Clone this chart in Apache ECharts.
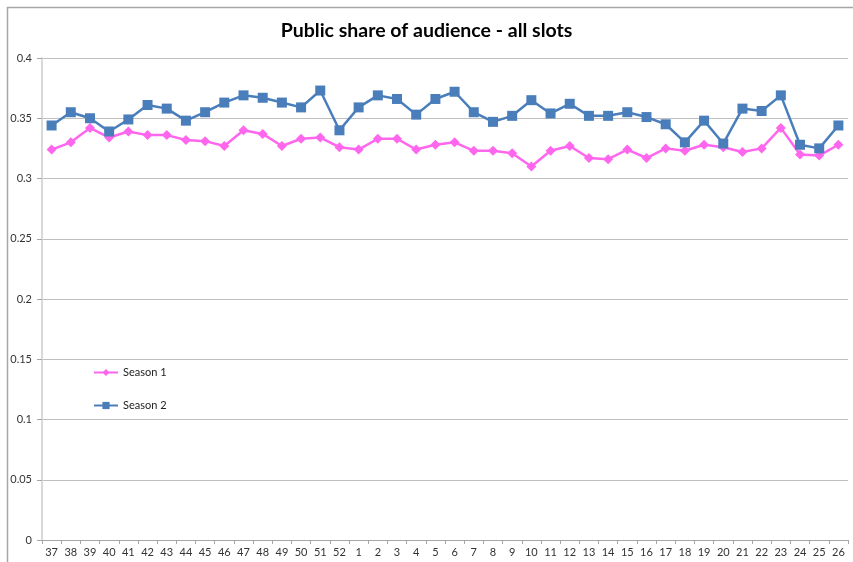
<!DOCTYPE html>
<html>
<head>
<meta charset="utf-8">
<script src="https://cdn.jsdelivr.net/npm/echarts@6/dist/echarts.min.js"></script>
<style>
  html, body { margin: 0; padding: 0; background: #fff; }
  #chart { width: 853px; height: 562px; }
</style>
</head>
<body>
<div id="chart"></div>
<script>
// weeks
const weeks = ["37", "38", "39", "40", "41", "42", "43", "44", "45", "46", "47", "48", "49", "50", "51", "52",
  "1", "2", "3", "4", "5", "6", "7", "8", "9", "10", "11", "12", "13", "14", "15", "16", "17", "18", "19", "20",
  "21", "22", "23", "24", "25", "26"];
const season1 = [0.324, 0.330, 0.342, 0.334, 0.339, 0.336, 0.336, 0.332, 0.331, 0.327, 0.340, 0.337, 0.327, 0.333,
  0.334, 0.326, 0.324, 0.333, 0.333, 0.324, 0.328, 0.330, 0.323, 0.323, 0.321, 0.310, 0.323, 0.327, 0.317, 0.316,
  0.324, 0.317, 0.325, 0.323, 0.328, 0.326, 0.322, 0.325, 0.342, 0.320, 0.319, 0.328];
const season2 = [0.344, 0.355, 0.350, 0.339, 0.349, 0.361, 0.358, 0.348, 0.355, 0.363, 0.369, 0.367, 0.363, 0.359,
  0.373, 0.340, 0.359, 0.369, 0.366, 0.353, 0.366, 0.372, 0.355, 0.347, 0.352, 0.365, 0.354, 0.362, 0.352, 0.352,
  0.355, 0.351, 0.345, 0.330, 0.348, 0.329, 0.358, 0.356, 0.369, 0.328, 0.325, 0.344];
const yTicks = ["0", "0.05", "0.1", "0.15", "0.2", "0.25", "0.3", "0.35", "0.4"];

const font = "Lato, 'Open Sans', sans-serif";

const chart = echarts.init(document.getElementById("chart"));
const option = {
  animation: false,
  backgroundColor: "#fff",
  title: {
    text: "Public share of audience - all slots",
    left: "center",
    top: 16,
    textStyle: { fontFamily: font, fontSize: 19.5, fontWeight: "bold", color: "#000" }
  },
  graphic: [
    {
      type: "polyline",
      shape: { points: [[7.5, 562], [7.5, 7.5], [853, 7.5]] },
      style: { stroke: "#a6a6a6", lineWidth: 1.5, fill: null }
    }
  ],
  legend: {
    orient: "vertical",
    left: 88,
    top: 362,
    itemGap: 22,
    itemWidth: 24,
    itemHeight: 9,
    textStyle: { fontFamily: font, fontSize: 11, color: "#222" },
    data: ["Season 1", "Season 2"]
  },
  grid: { left: 42, right: 5, top: 58, bottom: 22, containLabel: false },
  xAxis: {
    type: "category",
    data: weeks,
    boundaryGap: true,
    axisLine: { lineStyle: { color: "#a6a6a6" } },
    axisTick: { show: true, length: 4, inside: false, lineStyle: { color: "#a6a6a6" } },
    axisLabel: { fontFamily: font, fontSize: 11, color: "#333", margin: 7, interval: 0 },
    splitLine: { show: false }
  },
  yAxis: {
    type: "value",
    min: 0,
    max: 0.4,
    interval: 0.05,
    axisLine: { show: true, lineStyle: { color: "#d9d9d9", width: 2 } },
    axisTick: { show: true, length: 5, lineStyle: { color: "#a6a6a6" } },
    axisLabel: {
      fontFamily: font, fontSize: 11, color: "#333", margin: 10,
      formatter: (v) => yTicks[Math.round(v / 0.05)]
    },
    splitLine: { lineStyle: { color: "#bfbfbf", width: 1 } }
  },
  series: [
    {
      name: "Season 1",
      type: "line",
      data: season1,
      symbol: "diamond",
      symbolSize: 10,
      lineStyle: { color: "#ff66ee", width: 2.5 },
      itemStyle: { color: "#ff66ee" }
    },
    {
      name: "Season 2",
      type: "line",
      data: season2,
      symbol: "rect",
      symbolSize: 10,
      lineStyle: { color: "#4a7ebb", width: 2.5 },
      itemStyle: { color: "#4a7ebb" }
    }
  ]
};
chart.setOption(option);
window.addEventListener("resize", () => {
  chart.resize();
});
</script>
</body>
</html>
